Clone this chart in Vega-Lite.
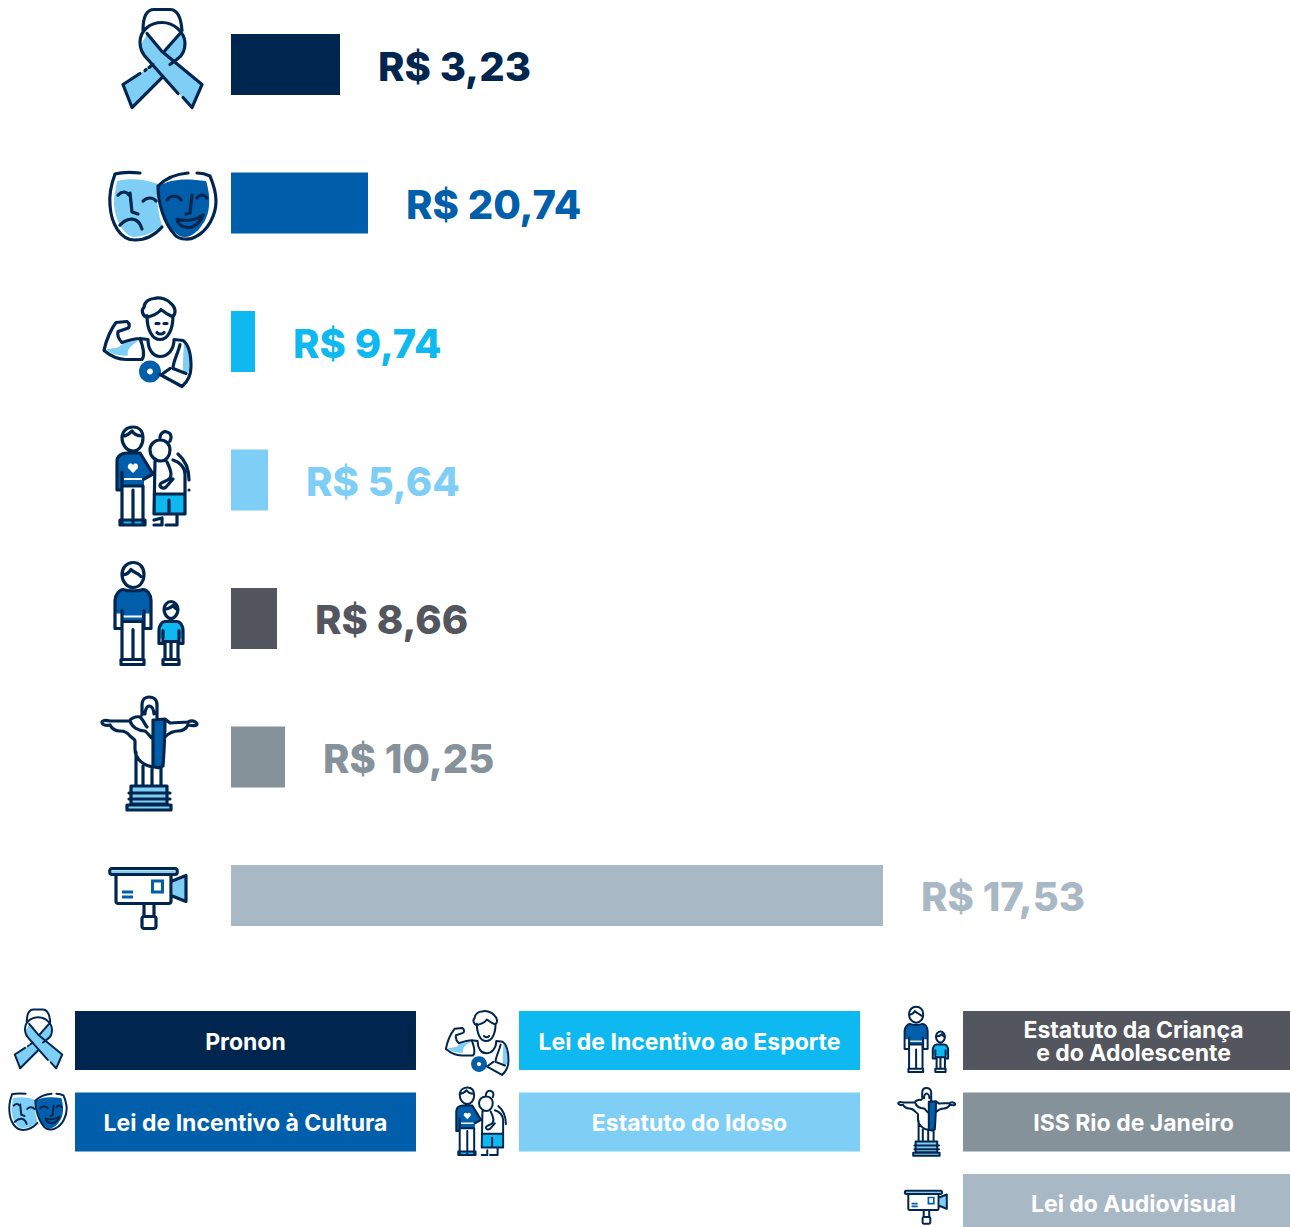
{"$schema":"https://vega.github.io/schema/vega-lite/v6.json","padding":0,"spacing":0,"bounds":"flush","background":"white","config":{"view":{"stroke":null},"concat":{"spacing":0}},
"data":{"values":[
{"categoria":"Pronon","rotulo":"R$ 3,23","comprimento":109,"legenda":"Pronon","coluna":1,"linha":1},
{"categoria":"Lei de Incentivo à Cultura","rotulo":"R$ 20,74","comprimento":137,"legenda":"Lei de Incentivo à Cultura","coluna":1,"linha":2},
{"categoria":"Lei de Incentivo ao Esporte","rotulo":"R$ 9,74","comprimento":24,"legenda":"Lei de Incentivo ao Esporte","coluna":2,"linha":1},
{"categoria":"Estatuto do Idoso","rotulo":"R$ 5,64","comprimento":37,"legenda":"Estatuto do Idoso","coluna":2,"linha":2},
{"categoria":"Estatuto da Criança e do Adolescente","rotulo":"R$ 8,66","comprimento":46,"legenda":"Estatuto da Criança\ne do Adolescente","coluna":3,"linha":1},
{"categoria":"ISS Rio de Janeiro","rotulo":"R$ 10,25","comprimento":54,"legenda":"ISS Rio de Janeiro","coluna":3,"linha":2},
{"categoria":"Lei do Audiovisual","rotulo":"R$ 17,53","comprimento":652,"legenda":"Lei do Audiovisual","coluna":3,"linha":3}
]},
"vconcat":[
{"width":1290,"height":960,
"encoding":{"y":{"field":"categoria","type":"nominal","axis":null,"sort":null,"scale":{"domain":["Pronon","Lei de Incentivo à Cultura","Lei de Incentivo ao Esporte","Estatuto do Idoso","Estatuto da Criança e do Adolescente","ISS Rio de Janeiro","Lei do Audiovisual"],"paddingInner":0.5596,"paddingOuter":0.2457}}},
"resolve":{"scale":{"shape":"independent"}},
"layer":[
{"mark":{"type":"bar"},"encoding":{"x":{"field":"comprimento","type":"quantitative","axis":null,"scale":{"domain":[-231,1059],"nice":false,"zero":false}},"color":{"field":"categoria","type":"nominal","legend":null,"scale":{"domain":["Pronon","Lei de Incentivo à Cultura","Lei de Incentivo ao Esporte","Estatuto do Idoso","Estatuto da Criança e do Adolescente","ISS Rio de Janeiro","Lei do Audiovisual"],"range":["#00264F","#005EAB","#0DB9F0","#7FCEF5","#53565E","#85929A","#A9B8C5"]}}}},
{"mark":{"type":"text","align":"left","baseline":"middle","dx":38,"dy":4,"font":"Inter","fontWeight":800,"fontSize":40},"encoding":{"x":{"field":"comprimento","type":"quantitative"},"text":{"field":"rotulo"},"color":{"field":"categoria","type":"nominal","legend":null}}},
{"mark":{"type":"point","filled":true,"fill":"#7FCEF5","opacity":1},"encoding":{"x":{"datum":-81,"type":"quantitative"},"size":{"value":4},"shape":{"field":"categoria","type":"nominal","legend":null,"scale":{"domain":["Pronon","Lei de Incentivo à Cultura","Lei de Incentivo ao Esporte","Estatuto do Idoso","Estatuto da Criança e do Adolescente","ISS Rio de Janeiro","Lei do Audiovisual"],"range":[
"M30,-32L35,-20L31,-9L20,0L12,14L-18,43L-27,20L-2,4L2,-3L12,-13Z M-3,-30L12,-13L52,20L42,43L30,30L-2,-4L-8,-11L-9,-20Z",
"M-33,-22C-20,-25 -5,-24 8,-19C6,-5 8,10 12,22C5,30 -8,34 -17,34C-30,30 -37,10 -36,-5Z",
"M-44,8C-36,6 -33,8 -28,3C-22,0 -14,-1 -11,-1C-18,3 -24,8 -22,14C-30,15 -38,13 -44,8Z M34,2C40,8 40,20 39,30L33,33C33,22 33,12 34,2Z",
"M0,0","M0,0",
"M-19,29L17,29L17,47L-19,47Z M-22,48L20,48L20,53L-22,53Z",
"M-38,-25L25,-25L25,-22L-38,-22Z M23,-13L35,-18L35,4L23,0Z"]}}}},
{"mark":{"type":"point","filled":true,"fill":"#0DB9F0","opacity":1},"encoding":{"x":{"datum":-81,"type":"quantitative"},"size":{"value":4},"shape":{"field":"categoria","type":"nominal","legend":null,"scale":{"domain":["Pronon","Lei de Incentivo à Cultura","Lei de Incentivo ao Esporte","Estatuto do Idoso","Estatuto da Criança e do Adolescente","ISS Rio de Janeiro","Lei do Audiovisual"],"range":[
"M0,0","M0,0","M0,0",
"M5,14L35,14L35,34L5,34Z M-29,40L-6,40L-6,45L-29,45Z",
"M9,12C9,7 12,3 15,3L27,3C30,3 33,7 33,12L33,20L28,20L28,23L15,23L15,20L9,20Z",
"M0,0","M0,0"]}}}},
{"mark":{"type":"point","filled":true,"fill":"#005EAB","opacity":1},"encoding":{"x":{"datum":-81,"type":"quantitative"},"size":{"value":4},"shape":{"field":"categoria","type":"nominal","legend":null,"scale":{"domain":["Pronon","Lei de Incentivo à Cultura","Lei de Incentivo ao Esporte","Estatuto do Idoso","Estatuto da Criança e do Adolescente","ISS Rio de Janeiro","Lei do Audiovisual"],"range":[
"M0,0",
"M9,-17C20,-24 35,-25 56,-22C60,-10 62,10 52,22C45,33 35,36 30,33C20,28 10,10 9,-17Z",
"M-11,30A11,11 0 1 1 11,30A11,11 0 1 1 -11,30Z M-3,30A3,3 0 1 0 3,30A3,3 0 1 0 -3,30Z",
"M-33,-19C-33,-24 -28,-27 -23,-27L-10,-27L3,-6L-6,-1L-6,6L-28,6L-28,10L-33,10Z",
"M-35,-18C-35,-24 -30,-29 -27,-29L-7,-29C-3,-29 1,-24 1,-18L1,-5L-6,-5L-6,3L-28,3L-28,-5L-35,-5Z",
"M3,-37L15,-38C15,-20 14,-5 13,9C10,11 6,11 3,9Z",
"M1,-16L14,-16L14,-2L1,-2Z M4,-13L4,-5L11,-5L11,-13Z M-28,-5L-17,-5L-17,-2L-28,-2Z M-28,0L-17,0L-17,3L-28,3Z"]}}}},
{"mark":{"type":"point","filled":true,"fill":"#FFFFFF","opacity":1},"encoding":{"x":{"datum":-81,"type":"quantitative"},"size":{"value":4},"shape":{"field":"categoria","type":"nominal","legend":null,"scale":{"domain":["Pronon","Lei de Incentivo à Cultura","Lei de Incentivo ao Esporte","Estatuto do Idoso","Estatuto da Criança e do Adolescente","ISS Rio de Janeiro","Lei do Audiovisual"],"range":[
"M0,0","M0,0","M0,0",
"M-17,-7L-22,-12C-23,-16 -19,-18 -17,-15C-15,-18 -11,-16 -12,-12Z M-26,-2L-8,-2L-8,0L-26,0Z",
"M-27,-3L-8,-3L-8,-1L-27,-1Z",
"M0,0","M0,0"]}}}},
{"mark":{"type":"point","filled":false,"stroke":"#00264F","strokeWidth":3.2,"strokeCap":"round","strokeJoin":"round","opacity":1},"encoding":{"x":{"datum":-81,"type":"quantitative"},"size":{"value":4},"shape":{"field":"categoria","type":"nominal","legend":null,"scale":{"domain":["Pronon","Lei de Incentivo à Cultura","Lei de Incentivo ao Esporte","Estatuto do Idoso","Estatuto da Criança e do Adolescente","ISS Rio de Janeiro","Lei do Audiovisual"],"range":[
"M-7,-34C-7,-48 -3,-55 4,-55L20,-55C27,-55 31,-47 32,-34 M-10,-22C-10,-34 0,-42 12,-42C24,-42 35,-32 35,-21C35,-14 32,-9 28,-6L20,0 M12,13L-18,43L-27,20L-10,9 M-5,6L-4,5 M-1,3L3,0 M-10,-22C-10,-14 -7,-10 -3,-6L28,29 M33,33L42,43L52,20L12,-13L-3,-31 M30,-31L15,-14",
"M-10,-30C-20,-31 -28,-31 -35,-29C-39,-18 -41,-8 -40,2C-39,20 -30,37 -15,37C-3,37 5,32 12,24 M38,-30C25,-29 15,-24 8,-17C8,0 14,20 25,32C30,37 40,37 45,34C58,28 66,12 66,-2C66,-10 63,-20 60,-27C56,-29 51,-30 47,-30 M-32,-8C-28,-12 -24,-12 -21,-8 M-20,-10L-18,9L-12,11 M-7,-2C-3,-6 3,-6 6,-2 M-30,22C-22,14 -12,13 -8,26 M17,-3C20,-8 28,-8 31,-3 M47,-5C50,-9 54,-9 57,-5 M42,-8L40,10L36,11 M27,16C35,19 47,17 53,12C50,22 40,26 35,24C30,23 28,20 27,16Z",
"M-3,-26C-3,-12 2,-2 10,-2C18,-2 23,-12 23,-26 M-3,-24C-8,-26 -9,-32 -6,-34C-6,-40 0,-43 4,-43C10,-45 18,-42 21,-38C26,-34 26,-28 23,-25C18,-26 14,-30 11,-32C8,-27 2,-26 -3,-24 M6,-18L9,-18 M14,-18L17,-18 M7,-9C9,-7 12,-7 14,-9 M-46,9C-44,-2 -38,-14 -34,-19L-23,-20C-20,-18 -20,-14 -23,-13L-32,-10C-33,-6 -32,-3 -28,1C-22,-1 -15,-3 -10,-3L-2,-2 M-46,9C-40,14 -32,18 -24,18L-8,18C-5,14 -7,5 -10,-3 M-2,-2C-2,8 3,15 10,15C18,15 24,8 24,-2L33,-1C40,4 41,15 41,25C41,33 38,40 32,45L10,33 M30,3C28,12 23,20 23,27L36,32 M20,27L13,32",
"M-28,-42C-28,-48 -24,-53 -17,-53C-10,-53 -7,-48 -7,-42C-7,-35 -11,-29 -17,-29C-23,-29 -28,-35 -28,-42Z M-27,-44C-23,-44 -20,-47 -18,-49C-16,-46 -12,-44 -8,-44 M-33,-19C-33,-24 -28,-27 -23,-27L-10,-27L3,-6L-6,-1 M-33,-19L-33,10L-28,10L-28,-8 M-28,6L-7,6 M-28,6L-28,43 M-17,10L-17,43 M-7,6L-7,43 M-30,40L-5,40L-5,45L-30,45Z M0,-30C0,-36 5,-40 10,-40C16,-40 20,-36 20,-30C20,-24 16,-19 11,-19C5,-19 0,-24 0,-30Z M10,-42C10,-47 14,-49 17,-48C21,-47 22,-43 20,-39 M5,-19L4,34L35,34L35,-6C35,-12 30,-18 23,-20 M4,14L35,14 M17,-18C20,-12 22,-5 20,-2C17,2 10,2 10,5C10,8 14,9 16,7L23,-1 M28,-26C35,-20 39,-10 39,0 M39,10L39,10 M4,45L12,45L12,38 M16,45L27,45L27,34 M4,40L12,38 M19,20L19,34",
"M-28,-44C-28,-51 -23,-56 -17,-56C-10,-56 -6,-51 -6,-44C-6,-37 -10,-31 -17,-31C-23,-31 -28,-37 -28,-44Z M-28,-44C-24,-43 -21,-46 -19,-49C-17,-46 -12,-46 -9,-42 M-35,-18C-35,-24 -30,-29 -27,-29C-22,-27 -12,-27 -7,-29C-3,-29 1,-24 1,-18L1,10L-6,10L-6,-8 M-35,-18L-35,10L-28,10L-28,-8 M-28,3L-7,3 M-28,3L-28,40 M-7,3L-7,40 M-17,11L-17,40 M-29,41L-6,41L-6,46L-29,46Z M14,-9C14,-13 17,-17 21,-17C25,-17 28,-13 28,-9C28,-5 25,0 21,0C17,0 14,-5 14,-9Z M15,-10C18,-9 21,-11 23,-13C24,-11 26,-10 27,-9 M9,12C9,7 12,3 15,3L27,3C30,3 33,7 33,12L33,25L29,25L29,12 M9,12L9,25L13,25L13,12 M15,23L28,23 M15,23L15,41 M28,23L28,41 M21,23L21,41 M13,41L29,41L29,46L13,46Z",
"M-8,-42L-8,-52C-8,-58 -4,-60 -1,-60C3,-60 7,-58 7,-52L7,-38 M-5,-43C-5,-47 -3,-51 -1,-51C2,-51 4,-47 4,-43 M-10,-40C-15,-41 -20,-38 -20,-36L-40,-36C-44,-37 -47,-37 -48,-35C-48,-32 -44,-31 -40,-32C-38,-28 -35,-26 -30,-26C-26,-26 -22,-24 -20,-21C-18,-19 -15,-18 -15,-16L-15,-8C-15,2 -6,9 3,10 M-20,-36C-18,-30 -12,-26 -5,-26C-2,-24 0,-20 3,-18 M-10,-40C-6,-36 -5,-32 -3,-30 M3,-37L15,-38L20,-34L38,-35C42,-37 46,-36 47,-33C47,-31 43,-31 38,-32C36,-28 33,-26 28,-26C23,-26 18,-23 15,-20 M15,-38C15,-20 14,-5 13,9C10,11 6,11 3,9L3,-37 M-14,-5L-14,29 M-7,9L-7,29 M2,10L2,29 M11,10L11,29 M-19,29L17,29L17,47L-19,47Z M-21,36L20,36 M-21,42L20,42 M-23,48L21,48L21,53L-23,53Z",
"M-38,-27L25,-27C28,-27 28,-21 25,-21L-38,-21C-41,-21 -41,-27 -38,-27Z M-34,-21L-34,6C-34,7 -33,8 -32,8L19,8C20,8 21,7 21,6L21,-21 M21,-14L36,-20L36,6L21,0 M-6,8L-6,21 M4,8L4,21 M-6,21L4,21C5,21 6,22 6,23L6,31C6,32 5,33 4,33L-6,33C-7,33 -8,32 -8,31L-8,23C-8,22 -7,21 -6,21Z"]}}}}
]},
{"width":1290,"height":267,
"encoding":{"y":{"field":"linha","type":"ordinal","axis":null,"scale":{"domain":[1,2,3],"range":[51,273],"paddingInner":0.276,"paddingOuter":0}}},
"resolve":{"scale":{"shape":"independent","x":"independent"}},
"layer":[
{"mark":{"type":"rect","clip":true},"encoding":{"x":{"field":"coluna","type":"ordinal","axis":null,"scale":{"domain":[1,2,3],"range":[75,1304],"paddingInner":0.232,"paddingOuter":0}},"color":{"field":"categoria","type":"nominal","legend":null,"scale":{"domain":["Pronon","Lei de Incentivo à Cultura","Lei de Incentivo ao Esporte","Estatuto do Idoso","Estatuto da Criança e do Adolescente","ISS Rio de Janeiro","Lei do Audiovisual"],"range":["#00264F","#005EAB","#0DB9F0","#7FCEF5","#53565E","#85929A","#A9B8C5"]}}}},
{"transform":[{"filter":"!(datum.coluna == 3 && datum.linha == 1)"}],"mark":{"type":"text","align":"center","baseline":"middle","dy":2,"font":"Inter","fontWeight":700,"fontSize":23,"color":"#FFFFFF"},"encoding":{"x":{"field":"coluna","type":"ordinal","axis":null,"scale":{"type":"band","domain":[1,2,3],"range":[75,1304],"paddingInner":0.232,"paddingOuter":0}},"text":{"field":"legenda"}}},
{"transform":[{"filter":"datum.coluna == 3 && datum.linha == 1"}],"mark":{"type":"text","align":"center","baseline":"middle","lineBreak":"\n","lineHeight":23.5,"dy":-10,"font":"Inter","fontWeight":700,"fontSize":23,"color":"#FFFFFF"},"encoding":{"x":{"field":"coluna","type":"ordinal","axis":null,"scale":{"type":"band","domain":[1,2,3],"range":[75,1304],"paddingInner":0.232,"paddingOuter":0}},"text":{"field":"legenda"}}},
{"mark":{"type":"point","filled":true,"fill":"#7FCEF5","opacity":1,"yOffset":2},"encoding":{"x":{"field":"coluna","type":"ordinal","axis":null,"scale":{"type":"point","domain":[1,2,3],"range":[31,927],"padding":0}},"size":{"field":"categoria","type":"nominal","legend":null,"scale":{"type":"ordinal","domain":["Pronon","Lei de Incentivo à Cultura","Lei de Incentivo ao Esporte","Estatuto do Idoso","Estatuto da Criança e do Adolescente","ISS Rio de Janeiro","Lei do Audiovisual"],"range":[1.44,1.17,2.07,1.9,1.64,1.44,1.21]}},"shape":{"field":"categoria","type":"nominal","legend":null,"scale":{"domain":["Pronon","Lei de Incentivo à Cultura","Lei de Incentivo ao Esporte","Estatuto do Idoso","Estatuto da Criança e do Adolescente","ISS Rio de Janeiro","Lei do Audiovisual"],"range":[
"M30,-32L35,-20L31,-9L20,0L12,14L-18,43L-27,20L-2,4L2,-3L12,-13Z M-3,-30L12,-13L52,20L42,43L30,30L-2,-4L-8,-11L-9,-20Z",
"M-33,-48C-20,-51 -5,-50 8,-45C6,-31 8,-16 12,-4C5,4 -8,8 -17,8C-30,4 -37,-16 -36,-31Z",
"M-44,8C-36,6 -33,8 -28,3C-22,0 -14,-1 -11,-1C-18,3 -24,8 -22,14C-30,15 -38,13 -44,8Z M34,2C40,8 40,20 39,30L33,33C33,22 33,12 34,2Z",
"M0,0","M0,0",
"M-19,29L17,29L17,47L-19,47Z M-22,48L20,48L20,53L-22,53Z",
"M-38,-25L25,-25L25,-22L-38,-22Z M23,-13L35,-18L35,4L23,0Z"]}}}},
{"mark":{"type":"point","filled":true,"fill":"#0DB9F0","opacity":1,"yOffset":2},"encoding":{"x":{"field":"coluna","type":"ordinal","axis":null,"scale":{"type":"point","domain":[1,2,3],"range":[31,927],"padding":0}},"size":{"field":"categoria","type":"nominal","legend":null,"scale":{"type":"ordinal","domain":["Pronon","Lei de Incentivo à Cultura","Lei de Incentivo ao Esporte","Estatuto do Idoso","Estatuto da Criança e do Adolescente","ISS Rio de Janeiro","Lei do Audiovisual"],"range":[1.44,1.17,2.07,1.9,1.64,1.44,1.21]}},"shape":{"field":"categoria","type":"nominal","legend":null,"scale":{"domain":["Pronon","Lei de Incentivo à Cultura","Lei de Incentivo ao Esporte","Estatuto do Idoso","Estatuto da Criança e do Adolescente","ISS Rio de Janeiro","Lei do Audiovisual"],"range":[
"M0,0","M0,0","M0,0",
"M5,14L35,14L35,34L5,34Z M-29,40L-6,40L-6,45L-29,45Z",
"M9,12C9,7 12,3 15,3L27,3C30,3 33,7 33,12L33,20L28,20L28,23L15,23L15,20L9,20Z",
"M0,0","M0,0"]}}}},
{"mark":{"type":"point","filled":true,"fill":"#005EAB","opacity":1,"yOffset":2},"encoding":{"x":{"field":"coluna","type":"ordinal","axis":null,"scale":{"type":"point","domain":[1,2,3],"range":[31,927],"padding":0}},"size":{"field":"categoria","type":"nominal","legend":null,"scale":{"type":"ordinal","domain":["Pronon","Lei de Incentivo à Cultura","Lei de Incentivo ao Esporte","Estatuto do Idoso","Estatuto da Criança e do Adolescente","ISS Rio de Janeiro","Lei do Audiovisual"],"range":[1.44,1.17,2.07,1.9,1.64,1.44,1.21]}},"shape":{"field":"categoria","type":"nominal","legend":null,"scale":{"domain":["Pronon","Lei de Incentivo à Cultura","Lei de Incentivo ao Esporte","Estatuto do Idoso","Estatuto da Criança e do Adolescente","ISS Rio de Janeiro","Lei do Audiovisual"],"range":[
"M0,0",
"M9,-43C20,-50 35,-51 56,-48C60,-36 62,-16 52,-4C45,7 35,10 30,7C20,2 10,-16 9,-43Z",
"M-11,30A11,11 0 1 1 11,30A11,11 0 1 1 -11,30Z M-3,30A3,3 0 1 0 3,30A3,3 0 1 0 -3,30Z",
"M-33,-19C-33,-24 -28,-27 -23,-27L-10,-27L3,-6L-6,-1L-6,6L-28,6L-28,10L-33,10Z",
"M-35,-18C-35,-24 -30,-29 -27,-29L-7,-29C-3,-29 1,-24 1,-18L1,-5L-6,-5L-6,3L-28,3L-28,-5L-35,-5Z",
"M3,-37L15,-38C15,-20 14,-5 13,9C10,11 6,11 3,9Z",
"M1,-16L14,-16L14,-2L1,-2Z M4,-13L4,-5L11,-5L11,-13Z M-28,-5L-17,-5L-17,-2L-28,-2Z M-28,0L-17,0L-17,3L-28,3Z"]}}}},
{"mark":{"type":"point","filled":true,"fill":"#FFFFFF","opacity":1,"yOffset":2},"encoding":{"x":{"field":"coluna","type":"ordinal","axis":null,"scale":{"type":"point","domain":[1,2,3],"range":[31,927],"padding":0}},"size":{"field":"categoria","type":"nominal","legend":null,"scale":{"type":"ordinal","domain":["Pronon","Lei de Incentivo à Cultura","Lei de Incentivo ao Esporte","Estatuto do Idoso","Estatuto da Criança e do Adolescente","ISS Rio de Janeiro","Lei do Audiovisual"],"range":[1.44,1.17,2.07,1.9,1.64,1.44,1.21]}},"shape":{"field":"categoria","type":"nominal","legend":null,"scale":{"domain":["Pronon","Lei de Incentivo à Cultura","Lei de Incentivo ao Esporte","Estatuto do Idoso","Estatuto da Criança e do Adolescente","ISS Rio de Janeiro","Lei do Audiovisual"],"range":[
"M0,0","M0,0","M0,0",
"M-17,-7L-22,-12C-23,-16 -19,-18 -17,-15C-15,-18 -11,-16 -12,-12Z M-26,-2L-8,-2L-8,0L-26,0Z",
"M-27,-3L-8,-3L-8,-1L-27,-1Z",
"M0,0","M0,0"]}}}},
{"mark":{"type":"point","filled":false,"stroke":"#00264F","strokeWidth":2,"strokeCap":"round","strokeJoin":"round","opacity":1,"yOffset":2},"encoding":{"x":{"field":"coluna","type":"ordinal","axis":null,"scale":{"type":"point","domain":[1,2,3],"range":[31,927],"padding":0}},"size":{"field":"categoria","type":"nominal","legend":null,"scale":{"type":"ordinal","domain":["Pronon","Lei de Incentivo à Cultura","Lei de Incentivo ao Esporte","Estatuto do Idoso","Estatuto da Criança e do Adolescente","ISS Rio de Janeiro","Lei do Audiovisual"],"range":[1.44,1.17,2.07,1.9,1.64,1.44,1.21]}},"shape":{"field":"categoria","type":"nominal","legend":null,"scale":{"domain":["Pronon","Lei de Incentivo à Cultura","Lei de Incentivo ao Esporte","Estatuto do Idoso","Estatuto da Criança e do Adolescente","ISS Rio de Janeiro","Lei do Audiovisual"],"range":[
"M-7,-34C-7,-48 -3,-55 4,-55L20,-55C27,-55 31,-47 32,-34 M-10,-22C-10,-34 0,-42 12,-42C24,-42 35,-32 35,-21C35,-14 32,-9 28,-6L20,0 M12,13L-18,43L-27,20L-10,9 M-5,6L-4,5 M-1,3L3,0 M-10,-22C-10,-14 -7,-10 -3,-6L28,29 M33,33L42,43L52,20L12,-13L-3,-31 M30,-31L15,-14",
"M-10,-56C-20,-57 -28,-57 -35,-55C-39,-44 -41,-34 -40,-24C-39,-6 -30,11 -15,11C-3,11 5,6 12,-2 M38,-56C25,-55 15,-50 8,-43C8,-26 14,-6 25,6C30,11 40,11 45,8C58,2 66,-14 66,-28C66,-36 63,-46 60,-53C56,-55 51,-56 47,-56 M-32,-34C-28,-38 -24,-38 -21,-34 M-20,-36L-18,-17L-12,-15 M-7,-28C-3,-32 3,-32 6,-28 M-30,-4C-22,-12 -12,-13 -8,0 M17,-29C20,-34 28,-34 31,-29 M47,-31C50,-35 54,-35 57,-31 M42,-34L40,-16L36,-15 M27,-10C35,-7 47,-9 53,-14C50,-4 40,0 35,-2C30,-3 28,-6 27,-10Z",
"M-3,-26C-3,-12 2,-2 10,-2C18,-2 23,-12 23,-26 M-3,-24C-8,-26 -9,-32 -6,-34C-6,-40 0,-43 4,-43C10,-45 18,-42 21,-38C26,-34 26,-28 23,-25C18,-26 14,-30 11,-32C8,-27 2,-26 -3,-24 M7,-9C9,-7 12,-7 14,-9 M-46,9C-44,-2 -38,-14 -34,-19L-23,-20C-20,-18 -20,-14 -23,-13L-32,-10C-33,-6 -32,-3 -28,1C-22,-1 -15,-3 -10,-3L-2,-2 M-46,9C-40,14 -32,18 -24,18L-8,18C-5,14 -7,5 -10,-3 M-2,-2C-2,8 3,15 10,15C18,15 24,8 24,-2L33,-1C40,4 41,15 41,25C41,33 38,40 32,45L10,33 M30,3C28,12 23,20 23,27L36,32 M20,27L13,32",
"M-28,-42C-28,-48 -24,-53 -17,-53C-10,-53 -7,-48 -7,-42C-7,-35 -11,-29 -17,-29C-23,-29 -28,-35 -28,-42Z M-27,-44C-23,-44 -20,-47 -18,-49C-16,-46 -12,-44 -8,-44 M-33,-19C-33,-24 -28,-27 -23,-27L-10,-27L3,-6L-6,-1 M-33,-19L-33,10L-28,10L-28,-8 M-28,6L-7,6 M-28,6L-28,43 M-17,10L-17,43 M-7,6L-7,43 M-30,40L-5,40L-5,45L-30,45Z M0,-30C0,-36 5,-40 10,-40C16,-40 20,-36 20,-30C20,-24 16,-19 11,-19C5,-19 0,-24 0,-30Z M10,-42C10,-47 14,-49 17,-48C21,-47 22,-43 20,-39 M5,-19L4,34L35,34L35,-6C35,-12 30,-18 23,-20 M4,14L35,14 M17,-18C20,-12 22,-5 20,-2C17,2 10,2 10,5C10,8 14,9 16,7L23,-1 M28,-26C35,-20 39,-10 39,0 M4,45L12,45L12,38 M16,45L27,45L27,34 M19,20L19,34",
"M-28,-44C-28,-51 -23,-56 -17,-56C-10,-56 -6,-51 -6,-44C-6,-37 -10,-31 -17,-31C-23,-31 -28,-37 -28,-44Z M-28,-44C-24,-43 -21,-46 -19,-49C-17,-46 -12,-46 -9,-42 M-35,-18C-35,-24 -30,-29 -27,-29C-22,-27 -12,-27 -7,-29C-3,-29 1,-24 1,-18L1,10L-6,10L-6,-8 M-35,-18L-35,10L-28,10L-28,-8 M-28,3L-7,3 M-28,3L-28,40 M-7,3L-7,40 M-17,11L-17,40 M-29,41L-6,41L-6,46L-29,46Z M14,-9C14,-13 17,-17 21,-17C25,-17 28,-13 28,-9C28,-5 25,0 21,0C17,0 14,-5 14,-9Z M15,-10C18,-9 21,-11 23,-13C24,-11 26,-10 27,-9 M9,12C9,7 12,3 15,3L27,3C30,3 33,7 33,12L33,25L29,25L29,12 M9,12L9,25L13,25L13,12 M15,23L28,23 M15,23L15,41 M28,23L28,41 M21,23L21,41 M13,41L29,41L29,46L13,46Z",
"M-8,-42L-8,-52C-8,-58 -4,-60 -1,-60C3,-60 7,-58 7,-52L7,-38 M-5,-43C-5,-47 -3,-51 -1,-51C2,-51 4,-47 4,-43 M-10,-40C-15,-41 -20,-38 -20,-36L-40,-36C-44,-37 -47,-37 -48,-35C-48,-32 -44,-31 -40,-32C-38,-28 -35,-26 -30,-26C-26,-26 -22,-24 -20,-21C-18,-19 -15,-18 -15,-16L-15,-8C-15,2 -6,9 3,10 M-20,-36C-18,-30 -12,-26 -5,-26C-2,-24 0,-20 3,-18 M3,-37L15,-38L20,-34L38,-35C42,-37 46,-36 47,-33C47,-31 43,-31 38,-32C36,-28 33,-26 28,-26C23,-26 18,-23 15,-20 M15,-38C15,-20 14,-5 13,9C10,11 6,11 3,9L3,-37 M-14,-5L-14,29 M-7,9L-7,29 M2,10L2,29 M11,10L11,29 M-19,29L17,29L17,47L-19,47Z M-21,36L20,36 M-21,42L20,42 M-23,48L21,48L21,53L-23,53Z",
"M-38,-27L25,-27C28,-27 28,-21 25,-21L-38,-21C-41,-21 -41,-27 -38,-27Z M-34,-21L-34,6C-34,7 -33,8 -32,8L19,8C20,8 21,7 21,6L21,-21 M21,-14L36,-20L36,6L21,0 M-6,8L-6,21 M4,8L4,21 M-6,21L4,21C5,21 6,22 6,23L6,31C6,32 5,33 4,33L-6,33C-7,33 -8,32 -8,31L-8,23C-8,22 -7,21 -6,21Z"]}}}}
]}
]}
